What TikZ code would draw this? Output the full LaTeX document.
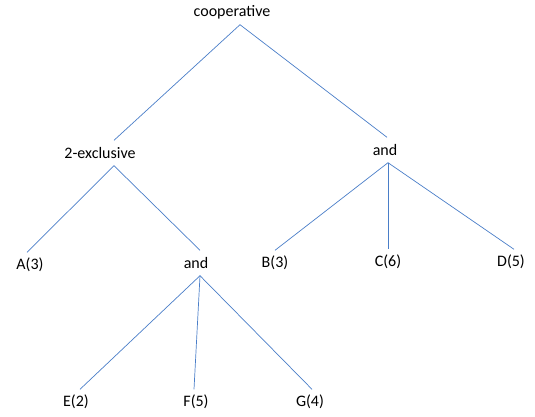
\documentclass[tikz,border=0pt]{standalone}
\usepackage{fontspec}
\setmainfont{Carlito}
\usepackage{xcolor}
\usetikzlibrary{positioning}
\definecolor{branchblue}{HTML}{4A7EC8}
\tikzset{
  label/.style={inner sep=0pt, minimum height=25pt, font=\fontsize{16}{18}\selectfont},
  branch/.style={draw=branchblue, line width=0.7pt}
}

\begin{document}
\begin{tikzpicture}[x=1pt,y=-1pt]
  \useasboundingbox (0,0) rectangle (535,416);

  % root
  \node[label] (coop) at (232,12) {cooperative};

  % second level
  \node[label] (excl) at (100,153) {2-exclusive};
  \node[label] (andR) at (385,150) {and};

  % third level
  \node[label] (A) at (30,265) {A(3)};
  \node[label] (andL) at (196,263) {and};
  \node[label] (B) at (275,263) {B(3)};
  \node[label] (C) at (388,262) {C(6)};
  \node[label] (D) at (511,262) {D(5)};

  % bottom level
  \node[label] (E) at (76,402) {E(2)};
  \node[label] (F) at (196,402) {F(5)};
  \node[label] (G) at (310,402) {G(4)};

  % branches
  \draw[branch] ([xshift=8pt]coop.south) -- ([xshift=14pt]excl.north);
  \draw[branch] ([xshift=8pt]coop.south) -- ([xshift=2pt]andR.north);
  \draw[branch] ([xshift=14pt]excl.south) -- ([xshift=-3pt]A.north);
  \draw[branch] ([xshift=14pt]excl.south) -- ([xshift=4pt]andL.north);
  \draw[branch] ([xshift=3pt]andR.south) -- (B.north);
  \draw[branch] ([xshift=3pt]andR.south) -- (C.north);
  \draw[branch] ([xshift=3pt]andR.south) -- ([xshift=3pt]D.north);
  \draw[branch] ([xshift=4pt]andL.south) -- ([xshift=4pt]E.north);
  \draw[branch] ([xshift=4pt]andL.south) -- ([xshift=-2pt]F.north);
  \draw[branch] ([xshift=4pt]andL.south) -- ([xshift=2pt]G.north);
\end{tikzpicture}
\end{document}
